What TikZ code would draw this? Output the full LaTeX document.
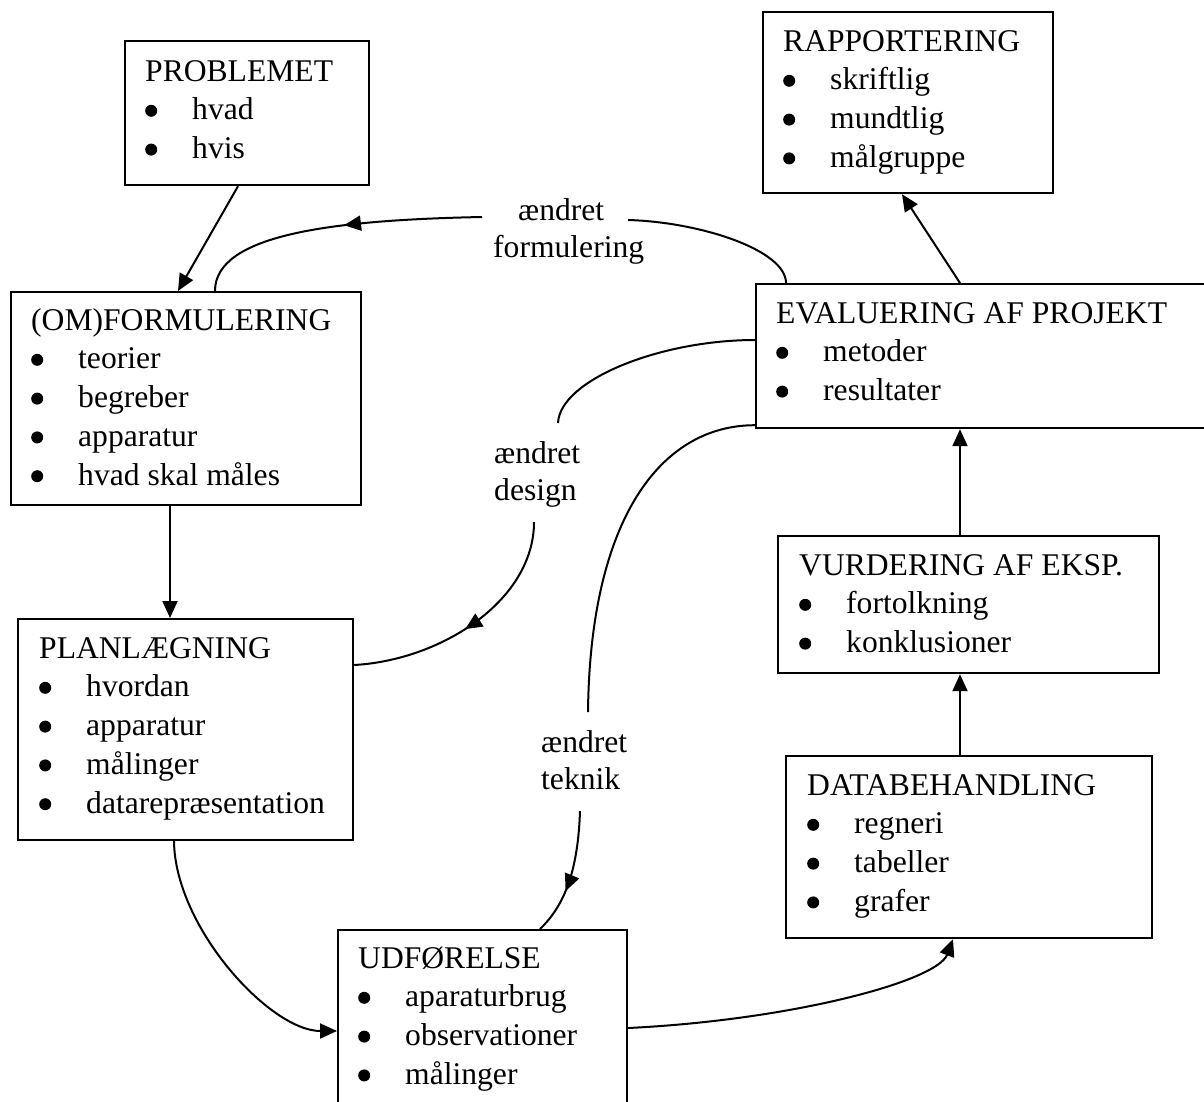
\documentclass[tikz,border=0pt]{standalone}
\usepackage{fontspec}
\setmainfont{Liberation Serif}
\usetikzlibrary{arrows.meta,decorations.markings}

% filled round bullet followed by the item text
\newcommand\bitem[1]{\makebox[47pt][l]{\raisebox{3pt}{\tikz\fill (0,0) circle (6pt);}}#1}

\tikzset{
  box/.style={draw, line width=2.2pt, inner sep=0pt, anchor=north west},
  boxtext/.style={inner sep=0pt, anchor=base west, font=\fontsize{31.6}{38.8}\selectfont},
  lbl/.style={inner sep=0pt, anchor=base west, font=\fontsize{31.6}{37.5}\selectfont},
  conn/.style={line width=2pt},
  tip/.style={-{Triangle[length=17pt,width=15pt]}},
  midtip/.style={postaction={decorate},
    decoration={markings, mark=at position #1 with {\arrow{Triangle[length=17pt,width=15pt]}}}},
}

\begin{document}
\begin{tikzpicture}[x=1pt,y=1pt]
\useasboundingbox (0,0) rectangle (1204,-1101);

% boxes
\node[box, minimum width=244pt, minimum height=144pt] (prob) at (124,-40) {};
\node[box, minimum width=290pt, minimum height=181pt] (rapp) at (762,-11) {};
\node[box, minimum width=350pt, minimum height=213pt] (form) at (10,-291) {};
\node[box, minimum width=460pt, minimum height=144pt] (eval) at (755,-283) {};
\node[box, minimum width=335pt, minimum height=221pt] (plan) at (17,-618) {};
\node[box, minimum width=381pt, minimum height=137pt] (vurd) at (777,-535) {};
\node[box, minimum width=366pt, minimum height=182pt] (data) at (785,-755) {};
\node[box, minimum width=289pt, minimum height=200pt] (udf) at (337,-929) {};

% box contents
\node[boxtext] (probT) at ([shift={(21pt,-41pt)}]prob.north west)
  {\begin{tabular}[t]{@{}l@{}}PROBLEMET\\\bitem{hvad}\\\bitem{hvis}\end{tabular}};
\node[boxtext] (rappT) at ([shift={(21pt,-40pt)}]rapp.north west)
  {\begin{tabular}[t]{@{}l@{}}RAPPORTERING\\\bitem{skriftlig}\\\bitem{mundtlig}\\\bitem{målgruppe}\end{tabular}};
\node[boxtext] (formT) at ([shift={(21pt,-39pt)}]form.north west)
  {\begin{tabular}[t]{@{}l@{}}(OM)FORMULERING\\\bitem{teorier}\\\bitem{begreber}\\\bitem{apparatur}\\\bitem{hvad skal måles}\end{tabular}};
\node[boxtext] (evalT) at ([shift={(21pt,-40pt)}]eval.north west)
  {\begin{tabular}[t]{@{}l@{}}EVALUERING AF PROJEKT\\\bitem{metoder}\\\bitem{resultater}\end{tabular}};
\node[boxtext] (planT) at ([shift={(22pt,-40pt)}]plan.north west)
  {\begin{tabular}[t]{@{}l@{}}PLANLÆGNING\\\bitem{hvordan}\\\bitem{apparatur}\\\bitem{målinger}\\\bitem{datarepræsentation}\end{tabular}};
\node[boxtext] (vurdT) at ([shift={(22pt,-40pt)}]vurd.north west)
  {\begin{tabular}[t]{@{}l@{}}VURDERING AF EKSP.\\\bitem{fortolkning}\\\bitem{konklusioner}\end{tabular}};
\node[boxtext] (dataT) at ([shift={(22pt,-40pt)}]data.north west)
  {\begin{tabular}[t]{@{}l@{}}DATABEHANDLING\\\bitem{regneri}\\\bitem{tabeller}\\\bitem{grafer}\end{tabular}};
\node[boxtext] (udfT) at ([shift={(21pt,-39pt)}]udf.north west)
  {\begin{tabular}[t]{@{}l@{}}UDFØRELSE\\\bitem{aparaturbrug}\\\bitem{observationer}\\\bitem{målinger}\end{tabular}};

% feedback labels
\node[lbl] (lblF) at (493,-220) {\begin{tabular}[t]{@{}l@{}}\hspace*{25pt}ændret\\formulering\end{tabular}};
\node[lbl] (lblD) at (494,-463) {\begin{tabular}[t]{@{}l@{}}ændret\\design\end{tabular}};
\node[lbl] (lblT) at (541,-752) {\begin{tabular}[t]{@{}l@{}}ændret\\teknik\end{tabular}};

% ends of the feedback curves beside their labels
\coordinate (fR) at (628,-220);
\coordinate (fL) at (482,-217);
\coordinate (dA) at (558,-423);
\coordinate (dB) at (534,-522);
\coordinate (tA) at (588,-712);
\coordinate (tB) at (580,-811);

% straight flow arrows
\draw[conn,tip] ([xshift=114pt]prob.south west) -- ([xshift=168pt]form.north west);
\draw[conn,tip] ([xshift=160pt]form.south west) -- ([xshift=153pt]plan.north west);
\draw[conn,tip] ([xshift=205pt]eval.north west) -- ([xshift=140pt]rapp.south west);
\draw[conn,tip] ([xshift=183pt]vurd.north west) -- ([xshift=205pt]eval.south west);
\draw[conn,tip] ([xshift=175pt]data.north west) -- ([xshift=183pt]vurd.south west);

% curved flow arrows
\draw[conn,tip] ([xshift=157pt]plan.south west) .. controls +(1,-86) and +(-67,0) .. ([yshift=-102pt]udf.north west);
\draw[conn,tip] ([yshift=-99pt]udf.north east) .. controls +(164,8) and +(-16,-42) .. ([xshift=168pt]data.south west);

% feedback: changed formulation
\draw[conn] ([xshift=31pt]eval.north west) .. controls +(0,33) and +(72,-2) .. (fR);
\draw[conn,midtip=0.47] (fL) .. controls +(-152,-3) and +(0,56) .. ([xshift=205pt]form.north west);

% feedback: changed design
\draw[conn] ([yshift=-57pt]eval.north west) .. controls +(-95,0) and +(2,43) .. (dA);
\draw[conn,midtip=0.53] (dB) .. controls +(0,-78) and +(88,5) .. ([yshift=-47pt]plan.north east);

% feedback: changed technique
\draw[conn] ([yshift=4pt]eval.south west) .. controls +(-95,0) and +(2,192) .. (tA);
\draw[conn,midtip=0.64] (tB) .. controls +(-2,-59) and +(25,24) .. ([xshift=203pt]udf.north west);
\end{tikzpicture}
\end{document}
